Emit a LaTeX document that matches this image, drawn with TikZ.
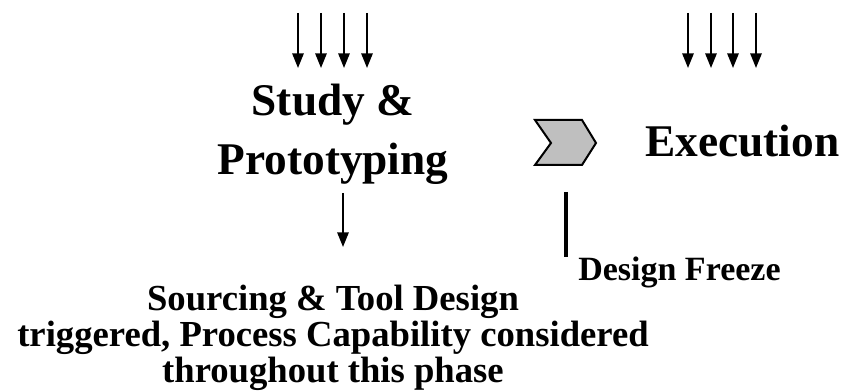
\documentclass[tikz,border=0pt]{standalone}
\usepackage{fontspec}
\setmainfont{Liberation Serif}
\usetikzlibrary{arrows.meta}
\begin{document}
\begin{tikzpicture}[x=0.75pt,y=-0.75pt,
  darrow/.style={line width=1.5pt,-{Triangle[length=11pt,width=8.5pt]}},
  bigtxt/.style={font=\fontsize{34}{44}\selectfont\bfseries,inner sep=0pt,align=center},
  midtxt/.style={font=\fontsize{25.5}{30}\selectfont\bfseries,inner sep=0pt},
  lowtxt/.style={font=\fontsize{27.5}{27}\selectfont\bfseries,inner sep=0pt,align=center}]
\useasboundingbox (0,0) rectangle (843,391);
% top arrows left
\foreach \i/\x in {1/298,2/321,3/344,4/367}{
  \coordinate (la\i) at (\x,13);
  \coordinate (lb\i) at (\x,68);
  \draw[darrow] (la\i) -- (lb\i);
}
% top arrows right
\foreach \i/\x in {1/688,2/711,3/733,4/756}{
  \coordinate (ra\i) at (\x,13);
  \coordinate (rb\i) at (\x,68);
  \draw[darrow] (ra\i) -- (rb\i);
}
\node[bigtxt] (study) at (333,134) {Study \&\\Prototyping};
\node[bigtxt,anchor=base west] (exec) at (645,157) {Execution};
% chevron
\draw[line width=1.5pt,fill=black!25,line join=miter]
  (535,120) -- (582,120) -- (596,143) -- (582,165) -- (535,165) -- (551,143) -- cycle;
% single arrow
\coordinate (sa) at (343,193);
\coordinate (sb) at (343,247);
\draw[darrow] (sa) -- (sb);
% design freeze bar
\coordinate (fa) at (566,192);
\coordinate (fb) at (566,257);
\draw[line width=3pt] (fa) -- (fb);
\node[midtxt,anchor=base west] (freeze) at (578,281) {Design Freeze};
\node[lowtxt] (src) at (333,338) {Sourcing \& Tool Design\\triggered, Process Capability considered\\throughout this phase};
\end{tikzpicture}
\end{document}
